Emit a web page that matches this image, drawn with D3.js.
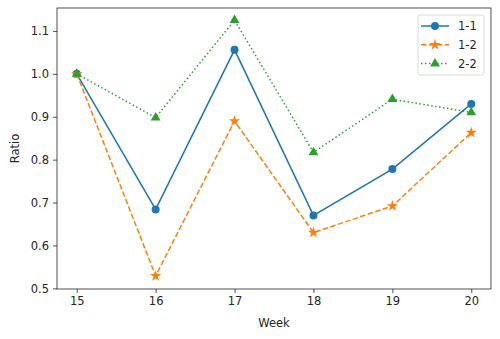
<!DOCTYPE html>
<html>
<head>
<meta charset="utf-8">
<script src="https://cdn.jsdelivr.net/npm/d3@7"></script>
<style>
  body { margin: 0; background: #fff; }
  text { font-family: "DejaVu Sans", sans-serif; fill: #262626; }
</style>
</head>
<body>
<svg id="chart" width="500" height="339"></svg>
<script>
const weeks = [15, 16, 17, 18, 19, 20];
const s11 = [1.0, 0.684, 1.056, 0.670, 0.778, 0.930];
const s12 = [1.0, 0.529, 0.890, 0.630, 0.692, 0.863];
const s22 = [1.0, 0.898, 1.125, 0.817, 0.941, 0.910];
const yTicks = [0.5, 0.6, 0.7, 0.8, 0.9, 1.0, 1.1];
const seriesNames = ["1-1", "1-2", "2-2"];

const margin = {left: 57, right: 9, top: 8, bottom: 50};
const width = 500, height = 339;
const fs = "11.5px";
const svg = d3.select("#chart");

let x = d3.scaleLinear().domain([14.75, 20.25]).range([margin.left, width - margin.right]);
let y = d3.scaleLinear().domain([0.4985, 1.1535]).range([height - margin.bottom, margin.top]);

const series = [
  {name: seriesNames[0], vals: s11, color: "#1f77b4", dash: null, marker: "circle"},
  {name: seriesNames[1], vals: s12, color: "#ff7f0e", dash: "5.5,2.4", marker: "star"},
  {name: seriesNames[2], vals: s22, color: "#2ca02c", dash: "1.5,2.5", marker: "triangle"}
];

function markerPath(type) {
  if (type == "circle") return d3.symbol(d3.symbolCircle, 50)();
  if (type == "star") return d3.symbol(d3.symbolStar, 40)();
  return d3.symbol(d3.symbolTriangle, 42)();
}

// axes
let xAxis = d3.axisBottom(x).tickValues(weeks).tickSize(4).tickPadding(4).tickFormat(d3.format("d"));
let yAxis = d3.axisLeft(y).tickValues(yTicks).tickSize(4).tickPadding(4).tickFormat(d3.format(".1f"));

const gx = svg.append("g").attr("transform", `translate(0,${height - margin.bottom})`).call(xAxis);
const gy = svg.append("g").attr("transform", `translate(${margin.left},0)`).call(yAxis);
[gx, gy].forEach(g => {
  g.select(".domain").remove();
  g.selectAll(".tick line").attr("stroke", "#262626").attr("stroke-width", 0.8);
  g.selectAll(".tick text").style("font-size", fs).style("font-family", "DejaVu Sans").attr("fill", "#262626");
});

const line = d3.line().x((d, i) => x(weeks[i])).y(d => y(d));

series.forEach(s => {
  svg.append("path")
    .datum(s.vals)
    .attr("d", line)
    .attr("fill", "none")
    .attr("stroke", s.color)
    .attr("stroke-width", 1.5)
    .attr("stroke-dasharray", s.dash);
  svg.selectAll(null).data(s.vals).enter().append("path")
    .attr("d", markerPath(s.marker))
    .attr("transform", (d, i) => `translate(${x(weeks[i])},${y(d)})`)
    .attr("fill", s.color);
});

// frame
svg.append("rect")
  .attr("x", margin.left).attr("y", margin.top)
  .attr("width", width - margin.left - margin.right)
  .attr("height", height - margin.top - margin.bottom)
  .attr("fill", "none").attr("stroke", "#262626").attr("stroke-width", 0.8);

// axis labels
svg.append("text").text("Week")
  .attr("x", (margin.left + width - margin.right) / 2).attr("y", 327)
  .attr("text-anchor", "middle").style("font-size", fs);
svg.append("text").text("Ratio")
  .attr("transform", `translate(19,${(margin.top + height - margin.bottom) / 2}) rotate(-90)`)
  .attr("text-anchor", "middle").style("font-size", fs);

// legend
const lg = svg.append("g").attr("transform", "translate(418,15)");
lg.append("rect").attr("width", 66).attr("height", 60).attr("rx", 2)
  .attr("fill", "#fff").attr("fill-opacity", 0.8).attr("stroke", "#d0d0d0").attr("stroke-width", 0.8);
series.forEach((s, i) => {
  const row = lg.append("g").attr("transform", `translate(0,${11 + i * 18.8})`);
  row.append("line").attr("x1", 3).attr("x2", 31).attr("y1", 0).attr("y2", 0)
    .attr("stroke", s.color).attr("stroke-width", 1.5).attr("stroke-dasharray", s.dash);
  row.append("path").attr("d", markerPath(s.marker)).attr("transform", "translate(17,0)").attr("fill", s.color);
  row.append("text").text(s.name).attr("x", 40).attr("y", 4).style("font-size", fs);
});
</script>
</body>
</html>
